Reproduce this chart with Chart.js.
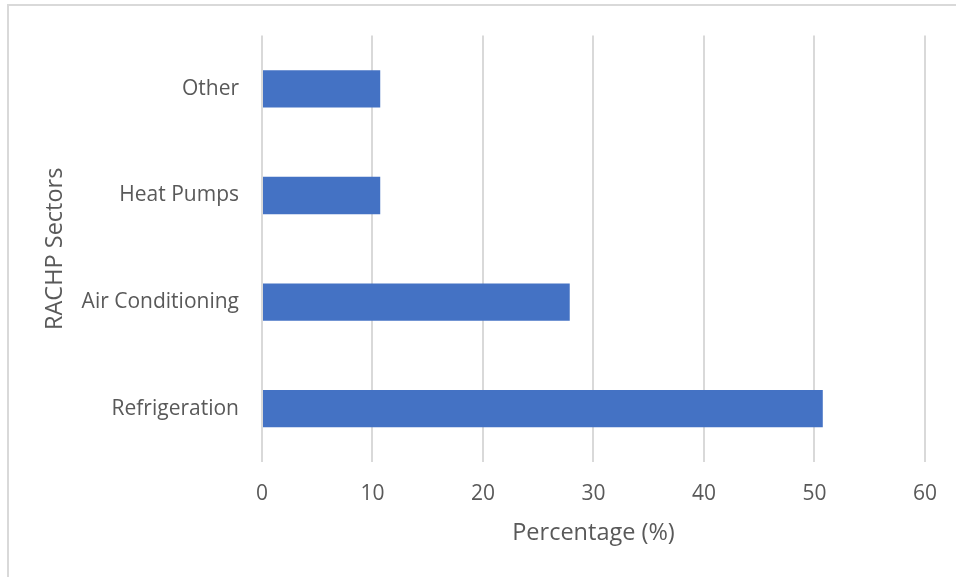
<!DOCTYPE html>
<html>
<head>
<meta charset="utf-8">
<script src="https://cdn.jsdelivr.net/npm/chart.js@4.4.0/dist/chart.umd.min.js"></script>
<style>
    html, body { margin: 0; padding: 0; background: #fff; }
    #wrap { position: relative; width: 956px; height: 577px; overflow: hidden; }
    #frame {
        position: absolute; left: 7px; top: 4px; width: 1000px; height: 600px;
        border-top: 2px solid #d9d9d9; border-left: 2px solid #d9d9d9;
        box-sizing: border-box; pointer-events: none;
    }
    canvas { position: absolute; left: 0; top: 0; }
</style>
</head>
<body>
<div id="wrap">
    <canvas id="sectorChart" width="956" height="577"></canvas>
    <div id="frame"></div>
</div>
<script>
// Chart data
var sectors = ['Other', 'Heat Pumps', 'Air Conditioning', 'Refrigeration'];
var percentages = [10.7, 10.7, 27.85, 50.75];
var xTicks = [0, 10, 20, 30, 40, 50, 60];

var textColor = '#595959';
var gridColor = '#d9d9d9';
var fontFamily = '"Open Sans", Lato, sans-serif';

new Chart(document.getElementById('sectorChart'), {
    type: 'bar',
    data: {
        labels: sectors,
        datasets: [{
            label: 'Percentage',
            data: percentages,
            backgroundColor: '#4472c4',
            borderWidth: 0,
            barPercentage: 0.35,
            categoryPercentage: 1
        }]
    },
    options: {
        indexAxis: 'y',
        responsive: false,
        animation: false,
        layout: {
            padding: { left: 0, right: 28, top: 34, bottom: 0 }
        },
        plugins: {
            legend: { display: false },
            tooltip: { enabled: false }
        },
        scales: {
            x: {
                min: 0,
                max: 60,
                afterBuildTicks: function(scale) {
                    scale.ticks = xTicks.map(function(v) { return { value: v }; });
                },
                afterFit: function(scale) {
                    scale.height = 115;
                },
                grid: {
                    color: gridColor,
                    lineWidth: 2,
                    drawTicks: false
                },
                border: { display: false },
                ticks: {
                    color: textColor,
                    padding: 19,
                    font: { family: fontFamily, size: 21 }
                },
                title: {
                    display: true,
                    text: 'Percentage (%)',
                    color: textColor,
                    padding: { top: 0, bottom: 30 },
                    font: { family: fontFamily, size: 23.5 }
                }
            },
            y: {
                afterFit: function(scale) {
                    scale.width = 262;
                },
                grid: { display: false, drawTicks: false },
                border: { display: false },
                ticks: {
                    color: textColor,
                    padding: 23,
                    font: { family: fontFamily, size: 21 }
                },
                title: {
                    display: true,
                    text: 'RACHP Sectors',
                    color: textColor,
                    padding: { top: 41, bottom: 0 },
                    font: { family: fontFamily, size: 23.5 }
                }
            }
        }
    }
});
</script>
</body>
</html>
